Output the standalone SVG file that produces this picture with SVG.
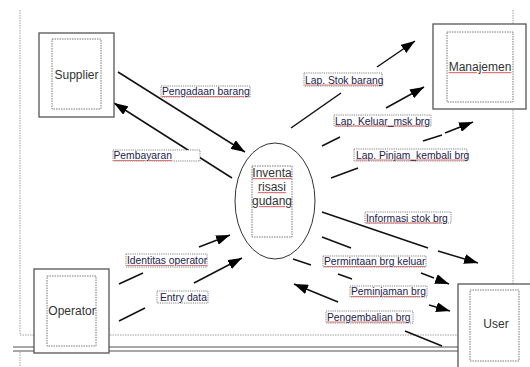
<svg xmlns="http://www.w3.org/2000/svg" width="530" height="367" viewBox="0 0 530 367">
<style>
.box{fill:#fff;stroke:#555;stroke-width:1.3}
.inner{fill:none;stroke:#555;stroke-width:0.8;stroke-dasharray:1.5,1}
.frame{fill:none;stroke:#888;stroke-width:0.8;stroke-dasharray:1.5,1}
.dbl{stroke:#8a8a8a;stroke-width:1.5;fill:none}
.node{font-family:"Liberation Sans",Arial,sans-serif;font-size:12px;fill:#333;text-anchor:middle}
.lbl{font-family:"Liberation Sans",Arial,sans-serif;font-size:10.3px;fill:#22224a}
.u{text-decoration:underline;fill:#d77}
.t{fill:#22224a}
.nt{fill:#333}
.lr{fill:#fff;stroke:#666;stroke-width:0.8;stroke-dasharray:1.2,1}
.c{fill:none;stroke:#111;stroke-width:1.5}
</style>
<defs>
<marker id="ah" markerWidth="14" markerHeight="10" refX="14" refY="5" orient="auto" markerUnits="userSpaceOnUse">
<path d="M0,0 L14,5 L0,10 z" fill="#000"/>
</marker>
</defs>
<rect width="530" height="367" fill="#fff"/>
<g id="frame">
<path class="frame" d="M20,10 V335 H458 M513,10 V284 M20,352 V367"/>
<path class="dbl" d="M13,347 H458 M13,351 H458"/>
</g>
<g id="connectors">
<path class="c" d="M118,72 L245,152" marker-end="url(#ah)"/>
<path class="c" d="M232,178 L114,103" marker-end="url(#ah)"/>
<path class="c" d="M291,128 L341,93"/>
<path class="c" d="M377,67 L415,41" marker-end="url(#ah)"/>
<path class="c" d="M322,146 L340,137"/>
<path class="c" d="M386,108 L424,87" marker-end="url(#ah)"/>
<path class="c" d="M331,178 L358,168 M423,141 L442,135"/>
<path class="c" d="M445,133 L473,122" marker-end="url(#ah)"/>
<path class="c" d="M322,212 L428,248"/>
<path class="c" d="M438,251 L478,263" marker-end="url(#ah)"/>
<path class="c" d="M322,237 L351,248 M421,273 L434,278"/>
<path class="c" d="M436,279 L449,284" marker-end="url(#ah)"/>
<path class="c" d="M293,259 L311,265 M338,274 L352,279"/>
<path class="c" d="M429,305 L450,311" marker-end="url(#ah)"/>
<path class="c" d="M338,302 L294,284" marker-end="url(#ah)"/>
<path class="c" d="M405,331 L442,346"/>
<path class="c" d="M119,284 L143,273"/>
<path class="c" d="M199,247 L230,235" marker-end="url(#ah)"/>
<path class="c" d="M119,321 L145,308"/>
<path class="c" d="M194,283 L242,258" marker-end="url(#ah)"/>
</g>
<g id="labels">
<rect class="lr" x="161" y="86" width="89" height="11"/><text class="lbl u" x="162" y="95"><tspan class="t">Pengadaan barang</tspan></text>
<rect class="lr" x="113" y="150" width="87" height="11"/><text class="lbl u" x="113.5" y="159"><tspan class="t">Pembayaran</tspan></text>
<rect class="lr" x="304" y="73" width="78" height="13"/><text class="lbl u" x="305" y="83.5"><tspan class="t">Lap. Stok barang</tspan></text>
<rect class="lr" x="334" y="115" width="97" height="11"/><text class="lbl u" x="335" y="124.5"><tspan class="t">Lap. Keluar_msk brg</tspan></text>
<rect class="lr" x="354" y="149" width="113" height="12"/><text class="lbl u" x="356" y="158.5"><tspan class="t">Lap. Pinjam_kembali brg</tspan></text>
<rect class="lr" x="365" y="212" width="86" height="11"/><text class="lbl u" x="366" y="221.5"><tspan class="t">Informasi stok brg</tspan></text>
<rect class="lr" x="323" y="256" width="103" height="11"/><text class="lbl u" x="324" y="265"><tspan class="t">Permintaan brg keluar</tspan></text>
<rect class="lr" x="350" y="286" width="77" height="11"/><text class="lbl u" x="351" y="295"><tspan class="t">Peminjaman brg</tspan></text>
<rect class="lr" x="326" y="311" width="87" height="12"/><text class="lbl u" x="327" y="320.5"><tspan class="t">Pengembalian brg</tspan></text>
<rect class="lr" x="126" y="254" width="81" height="13"/><text class="lbl u" x="127" y="264"><tspan class="t">Identitas operator</tspan></text>
<rect class="lr" x="157" y="291" width="51" height="12"/><text class="lbl" x="160" y="300.5">Entry data</text>
</g>
<g id="supplier">
<rect class="box" x="39" y="33" width="75" height="84"/>
<rect class="inner" x="52" y="39" width="49" height="70"/>
<text class="node" x="76.5" y="79">Supplier</text>
</g>
<g id="manajemen">
<rect class="box" x="433" y="24" width="93" height="85"/>
<rect class="inner" x="447" y="32" width="66" height="70"/>
<text class="node u" x="480" y="71"><tspan class="nt">Manajemen</tspan></text>
</g>
<g id="operator">
<rect class="box" x="34" y="269" width="75" height="84"/>
<rect class="inner" x="47" y="276" width="49" height="70"/>
<text class="node" x="72" y="315">Operator</text>
</g>
<g id="user">
<rect class="box" x="458" y="284" width="80" height="90"/>
<rect class="inner" x="470" y="290" width="49" height="71"/>
<text class="node" x="496" y="328">User</text>
</g>
<g id="inventarisasi">
<ellipse cx="275" cy="201" rx="40" ry="58" fill="none" stroke="#333" stroke-width="1"/>
<rect class="inner" x="252" y="166" width="40" height="71"/>
<text class="node u" x="272" y="177"><tspan class="nt">Inventa</tspan></text>
<text class="node u" x="272" y="191"><tspan class="nt">risasi</tspan></text>
<text class="node u" x="272" y="205"><tspan class="nt">gudang</tspan></text>
</g>
</svg>
